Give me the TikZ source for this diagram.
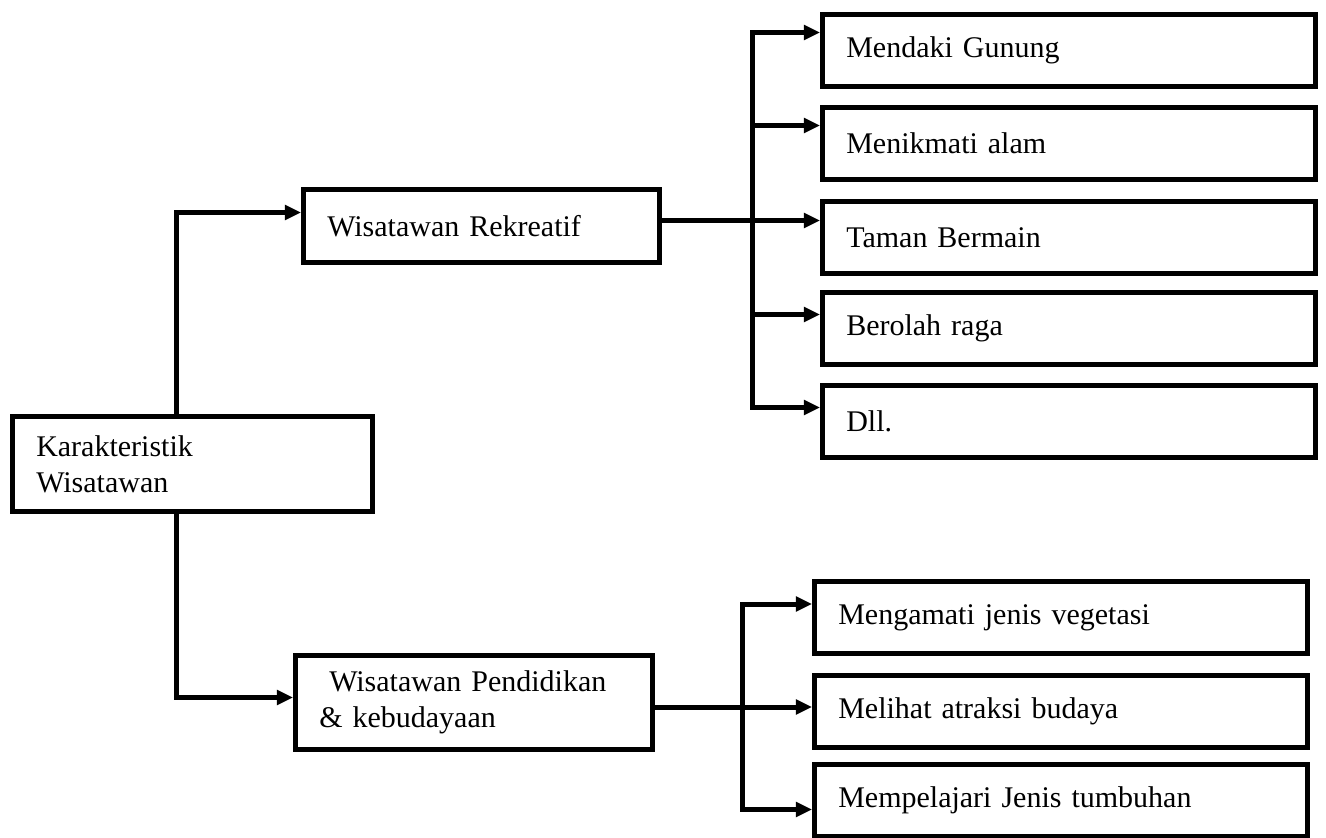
\documentclass[tikz,border=0pt]{standalone}
\usepackage{fontspec}
\setmainfont{Liberation Serif}
\usetikzlibrary{arrows.meta}

\begin{document}
\begin{tikzpicture}[x=0.4pt, y=-0.4pt, line width=2pt, line cap=rect,
    >={Triangle[length=6.5pt,width=5.8pt]},
    box/.style={draw, rectangle, anchor=north west, align=left, inner xsep=9.5pt, inner ysep=0pt,
      font=\fontsize{12}{14.5}\selectfont},
    side/.style={box, text width=178.2pt, minimum height=28.8pt}]
    \useasboundingbox (0,0) rectangle (1326,838);

    \node[box, text width=125pt, minimum height=38pt] (karakter) at (10,414) {Karakteristik\\Wisatawan};
    \node[box, text width=123.4pt, minimum height=29.2pt] (rekreatif) at (301,187) {Wisatawan Rekreatif};
    \node[box, text width=123.8pt, minimum height=37.6pt] (pendidikan) at (293,653) {\ Wisatawan Pendidikan\\\& kebudayaan};

    \node[side] (mendaki) at (820,12) {Mendaki Gunung};
    \node[side] (menikmati) at (820,105) {Menikmati alam};
    \node[side] (taman) at (820,199) {Taman Bermain};
    \node[side] (olahraga) at (820,290) {Berolah raga};
    \node[side] (dll) at (820,383) {Dll.};

    \node[side] (vegetasi) at (812,579) {Mengamati jenis vegetasi};
    \node[side] (atraksi) at (812,673) {Melihat atraksi budaya};
    \node[side] (tumbuhan) at (812,762) {Mempelajari Jenis tumbuhan};

    \coordinate (busl) at (176,0);
    \coordinate (busr) at (752,0);
    \coordinate (busp) at (742,0);
    \foreach \n/\s in {mendaki/7.2pt, menikmati/7.2pt, taman/6.8pt, olahraga/5.6pt, dll/5.6pt,
        vegetasi/5.4pt, atraksi/1.8pt, tumbuhan/-3.6pt, rekreatif/5.4pt, pendidikan/2pt}
      \coordinate (\n-in) at ([yshift=\s]\n.west);

    \draw[->] (karakter.north -| busl) |- (rekreatif-in);
    \draw[->] (karakter.south -| busl) |- (pendidikan-in);

    \draw[->] (taman-in -| rekreatif.east) -- (taman-in);
    \draw[->] (dll-in -| busr) -- (mendaki-in -| busr) -- (mendaki-in);
    \foreach \n in {menikmati, olahraga, dll}
      \draw[->] (\n-in -| busr) -- (\n-in);

    \draw[->] (atraksi-in -| pendidikan.east) -- (atraksi-in);
    \draw[->] (tumbuhan-in -| busp) -- (vegetasi-in -| busp) -- (vegetasi-in);
    \draw[->] (tumbuhan-in -| busp) -- (tumbuhan-in);
\end{tikzpicture}
\end{document}
